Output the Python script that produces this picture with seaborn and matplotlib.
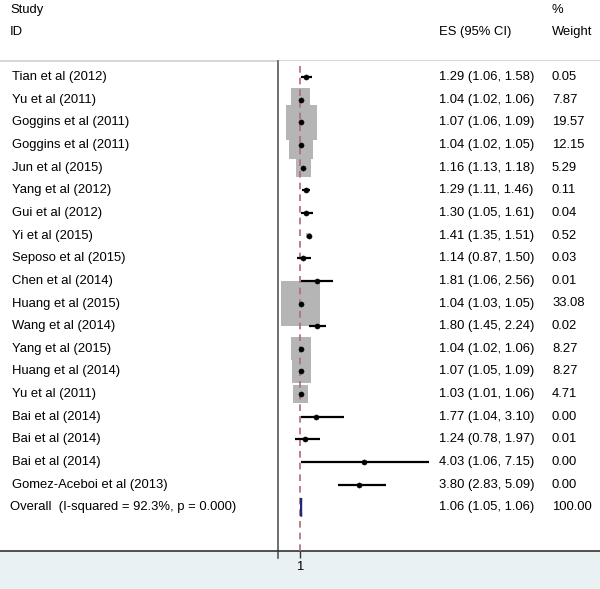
import matplotlib
matplotlib.use("Agg")
import matplotlib.pyplot as plt
import seaborn as sns
import pandas as pd
import numpy as np
from matplotlib.transforms import blended_transform_factory
from matplotlib.lines import Line2D
from matplotlib.patches import Rectangle

studies = ["Tian et al (2012)", "Yu et al (2011)", "Goggins et al (2011)", "Goggins et al (2011)",
           "Jun et al (2015)", "Yang et al (2012)", "Gui et al (2012)", "Yi et al (2015)",
           "Seposo et al (2015)", "Chen et al (2014)", "Huang et al (2015)", "Wang et al (2014)",
           "Yang et al (2015)", "Huang et al (2014)", "Yu et al (2011)", "Bai et al (2014)",
           "Bai et al (2014)", "Bai et al (2014)", "Gomez-Aceboi et al (2013)"]
es = [1.29, 1.04, 1.07, 1.04, 1.16, 1.29, 1.30, 1.41, 1.14, 1.81, 1.04, 1.80, 1.04, 1.07, 1.03, 1.77, 1.24, 4.03, 3.80]
lo = [1.06, 1.02, 1.06, 1.02, 1.13, 1.11, 1.05, 1.35, 0.87, 1.06, 1.03, 1.45, 1.02, 1.05, 1.01, 1.04, 0.78, 1.06, 2.83]
hi = [1.58, 1.06, 1.09, 1.05, 1.18, 1.46, 1.61, 1.51, 1.50, 2.56, 1.05, 2.24, 1.06, 1.09, 1.06, 3.10, 1.97, 7.15, 5.09]
weight = [0.05, 7.87, 19.57, 12.15, 5.29, 0.11, 0.04, 0.52, 0.03, 0.01, 33.08, 0.02, 8.27, 8.27, 4.71, 0.00, 0.01, 0.00, 0.00]
overall_label = "Overall  (I-squared = 92.3%, p = 0.000)"
overall_es, overall_lo, overall_hi, overall_w = 1.06, 1.05, 1.06, 100.00
xticks = [1]

W, H = 600, 589
fig = plt.figure(figsize=(W / 100, H / 100), dpi=100)
fig.patch.set_facecolor("white")
plt.rcParams["font.family"] = ["Liberation Sans", "DejaVu Sans"]
FS = 9.4

# bottom shaded band
fig.patches.append(Rectangle((0, 0), 1, (H - 551) / H, transform=fig.transFigure,
                             facecolor="#eaf1f3", edgecolor="none", zorder=-5))

ax_left, ax_right = 278 / W, 1.0
ax_bot, ax_top = (H - 551) / H, (H - 61) / H
ax = fig.add_axes([ax_left, ax_bot, ax_right - ax_left, ax_top - ax_bot])
ax.set_zorder(2)
ax.set_facecolor("white")

px_per_unit = 21.0
ax.set_xlim(1 - 22 / px_per_unit, 1 + 300 / px_per_unit)
row0, rowsp = 77, 22.65
ax.set_ylim((551 - row0) / rowsp, (61 - row0) / rowsp)

df = pd.DataFrame({"study": studies, "es": es, "lo": lo, "hi": hi, "weight": weight})
df["row"] = np.arange(len(df))

# weighted boxes (taller than wide)
box = np.array([[-0.855, -1], [0.855, -1], [0.855, 1], [-0.855, 1], [-0.855, -1]])
dfb = df[df["weight"] > 0]
sns.scatterplot(data=dfb, x="es", y="row", size="weight", sizes=(dfb["weight"].min() * 33.1, dfb["weight"].max() * 33.1),
                size_norm=(dfb["weight"].min(), dfb["weight"].max()),
                marker=box, color="#b5b5b5", edgecolor="none", linewidth=0, legend=False, ax=ax, zorder=2)

# null line
ax.axvline(1, color="#b06a78", linestyle=(0, (4, 3)), linewidth=1.2, zorder=3)

# CIs
ax.hlines(df["row"], df["lo"], df["hi"], color="black", linewidth=1.6, zorder=4)
sns.scatterplot(data=df, x="es", y="row", marker="o", s=14, color="black", edgecolor="black",
                linewidth=0.3, legend=False, ax=ax, zorder=5)

# overall diamond
yo = len(df)
ax.fill([overall_lo, overall_es, overall_hi, overall_es], [yo, yo - 0.4, yo, yo + 0.4],
        facecolor="#1c2a6e", edgecolor="#1c2a6e", linewidth=1.3, zorder=5)

for s in ["top", "right"]:
    ax.spines[s].set_visible(False)
ax.spines["left"].set_color("#555555")
ax.spines["left"].set_linewidth(1.2)
ax.spines["bottom"].set_color("#333333")
ax.spines["bottom"].set_linewidth(1.2)
ax.set_yticks([])
ax.set_xticks(xticks)
ax.set_xticklabels([str(t) for t in xticks], fontsize=FS)
ax.tick_params(axis="x", length=5, width=1, color="#333333", pad=2)
ax.set_xlabel("")
ax.set_ylabel("")

# extra frame lines in figure coords
fig.add_artist(Line2D([0, 1], [(H - 61) / H] * 2, color="#cfcfcf", linewidth=1.2, transform=fig.transFigure))
fig.add_artist(Line2D([0, ax_left], [(H - 551) / H] * 2, color="#333333", linewidth=1.2, transform=fig.transFigure))
fig.add_artist(Line2D([ax_left, ax_left], [(H - 551) / H, (H - 558) / H], color="#555555", linewidth=1.2, transform=fig.transFigure))

# texts
tr = blended_transform_factory(fig.transFigure, ax.transData)
for i, r in df.iterrows():
    ax.text(12 / W, r["row"], r["study"], transform=tr, fontsize=FS, va="center", ha="left", clip_on=False)
    ax.text(439 / W, r["row"], f"{r['es']:.2f} ({r['lo']:.2f}, {r['hi']:.2f})", transform=tr,
            fontsize=FS, va="center", ha="left", clip_on=False)
    ax.text(552 / W, r["row"], f"{r['weight']:.2f}", transform=tr, fontsize=FS, va="center", ha="left", clip_on=False)
ax.text(10 / W, yo, overall_label, transform=tr, fontsize=FS, va="center", ha="left", clip_on=False)
ax.text(439 / W, yo, f"{overall_es:.2f} ({overall_lo:.2f}, {overall_hi:.2f})", transform=tr,
        fontsize=FS, va="center", ha="left", clip_on=False)
ax.text(552 / W, yo, f"{overall_w:.2f}", transform=tr, fontsize=FS, va="center", ha="left", clip_on=False)

fig.text(10 / W, 1 - 10 / H, "Study", fontsize=FS, va="center", ha="left")
fig.text(10 / W, 1 - 32 / H, "ID", fontsize=FS, va="center", ha="left")
fig.text(439 / W, 1 - 32 / H, "ES (95% CI)", fontsize=FS, va="center", ha="left")
fig.text(552 / W, 1 - 10 / H, "%", fontsize=FS, va="center", ha="left")
fig.text(552 / W, 1 - 32 / H, "Weight", fontsize=FS, va="center", ha="left")

fig.savefig("out.png", dpi=100)
